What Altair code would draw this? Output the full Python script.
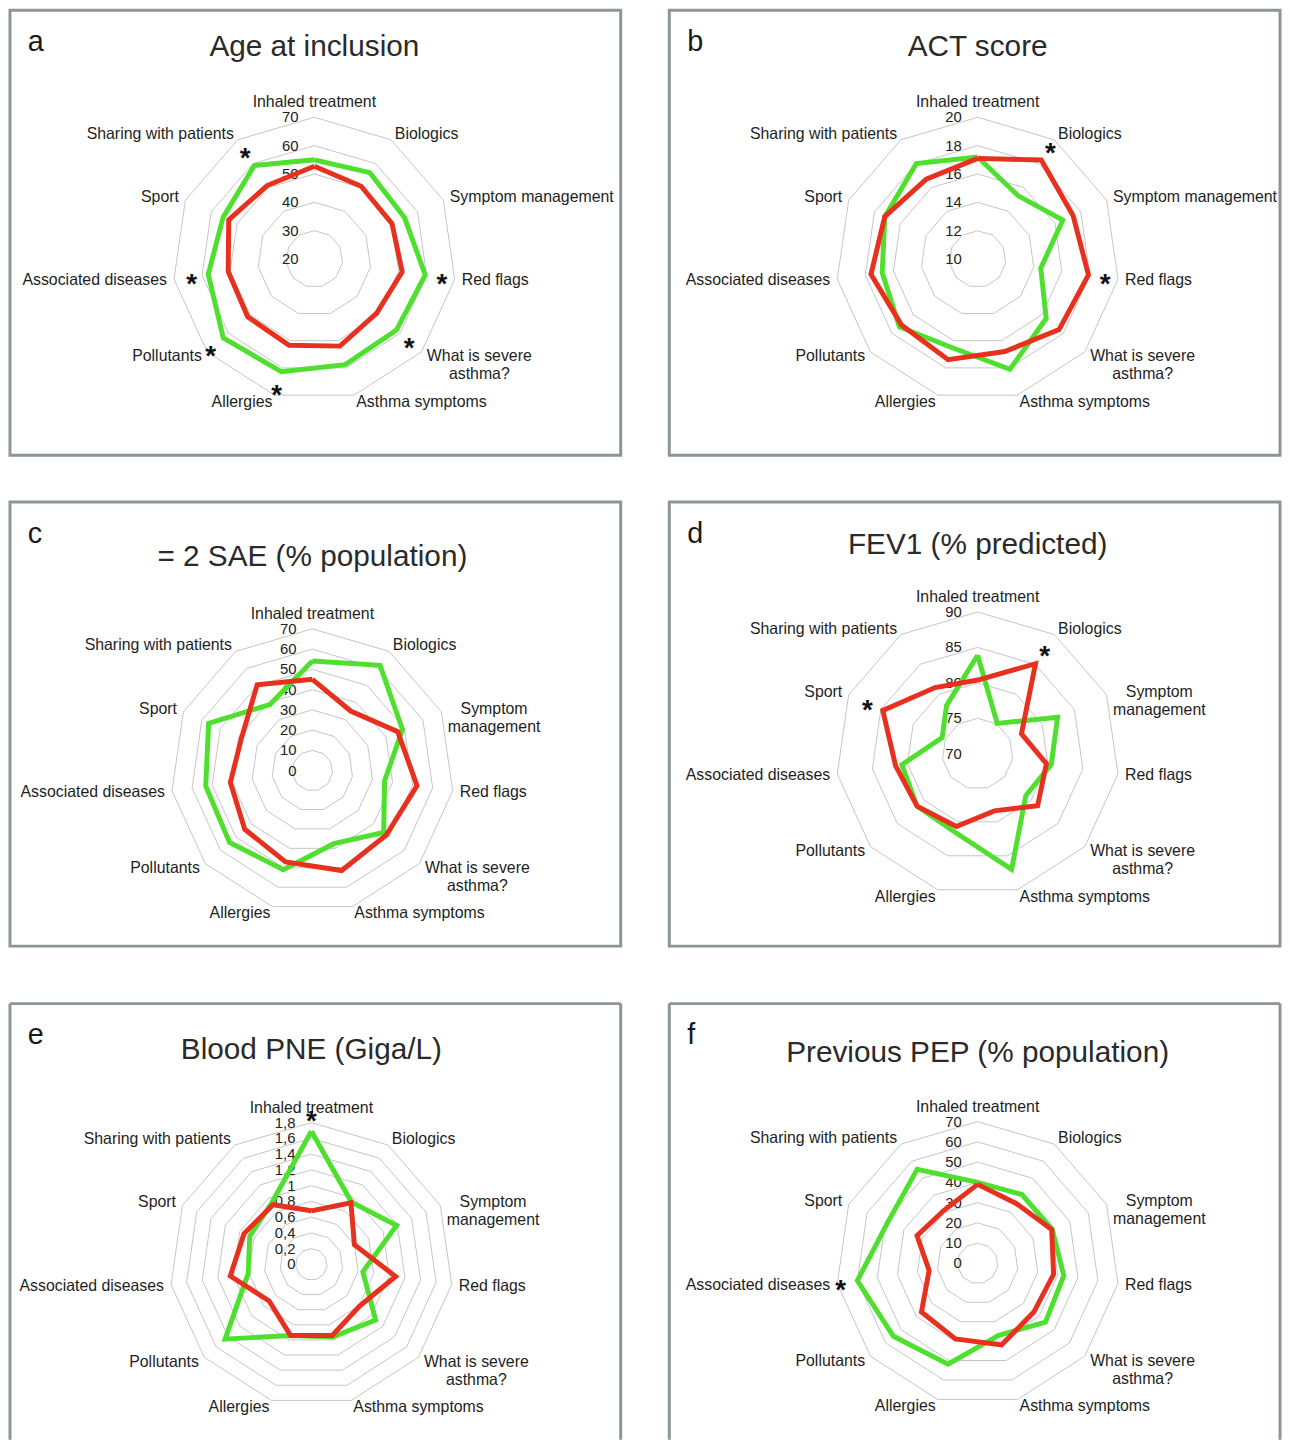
import math
import altair as alt
import pandas as pd

# ---------------- data ----------------
AXES = ["Inhaled treatment", "Biologics", "Symptom management", "Red flags",
        "What is severe asthma?", "Asthma symptoms", "Allergies", "Pollutants",
        "Associated diseases", "Sport", "Sharing with patients"]

KEYS = ["a", "b", "c", "d", "e", "f"]
TITLES = ["Age at inclusion", "ACT score", "= 2 SAE (% population)",
          "FEV1 (% predicted)", "Blood PNE (Giga/L)", "Previous PEP (% population)"]

TICKS_A = [20, 30, 40, 50, 60, 70]
TICKS_B = [10, 12, 14, 16, 18, 20]
TICKS_C = [0, 10, 20, 30, 40, 50, 60, 70]
TICKS_D = [70, 75, 80, 85, 90]
TICKS_E = [0, 0.2, 0.4, 0.6, 0.8, 1.0, 1.2, 1.4, 1.6, 1.8]
TICKS_F = [0, 10, 20, 30, 40, 50, 60, 70]
TICK_LABELS_E = ["0", "0,2", "0,4", "0,6", "0,8", "1", "1,2", "1,4", "1,6", "1,8"]

GREEN_A = [55.0, 56.2, 55.0, 59.5, 58.3, 58.8, 61.4, 62.5, 57.8, 55.4, 59.2]
RED_A = [52.7, 50.5, 50.1, 51.3, 49.1, 52.0, 51.7, 51.1, 50.7, 53.2, 50.8]
GREEN_B = [17.2, 15.3, 16.6, 14.5, 16.4, 18.1, 16.5, 17.3, 16.8, 17.2, 18.0]
RED_B = [17.1, 18.3, 17.4, 17.9, 17.6, 16.8, 17.4, 17.1, 17.6, 17.2, 16.7]
GREEN_C = [54.1, 61.8, 48.9, 36.0, 46.6, 37.6, 51.0, 54.1, 53.2, 56.3, 38.8]
RED_C = [45.1, 35.0, 46.3, 52.2, 48.4, 51.4, 47.0, 44.2, 40.9, 38.5, 50.4]
GREEN_D = [83.9, 75.1, 82.4, 80.5, 79.0, 87.0, 81.5, 81.3, 80.8, 75.5, 78.1]
RED_D = [80.4, 85.1, 76.8, 79.8, 81.2, 78.4, 80.7, 81.3, 81.7, 84.7, 81.1]
GREEN_E = [1.69, 0.94, 1.19, 0.66, 1.08, 0.96, 0.94, 1.45, 0.81, 0.86, 0.93]
RED_E = [0.68, 0.93, 0.60, 1.08, 0.81, 0.94, 0.94, 0.71, 1.04, 0.94, 0.90]
GREEN_F = [40.0, 40.4, 40.5, 43.0, 44.3, 37.0, 51.9, 55.0, 60.0, 48.8, 55.2]
RED_F = [39.0, 35.2, 40.2, 37.9, 36.7, 42.0, 38.9, 36.7, 24.2, 32.9, 31.0]

STARS_A = ["Sharing with patients", "Associated diseases", "Pollutants", "Allergies",
           "Red flags", "What is severe asthma?"]
STARS_B = ["Biologics", "Red flags"]
STARS_C = []
STARS_D = ["Biologics", "Sport"]
STARS_E = ["Inhaled treatment"]
STARS_F = ["Associated diseases"]

# ---------------- style / layout ----------------
GREEN_COL = "#4fdf2e"
RED_COL = "#e8301e"
GRID_COL = "#c4c4c4"
BOX_COL = "#8b9795"
FONT = "Liberation Sans"
PW = 616          # panel width
R = 143           # outer ring radius (px)
LAYOUT = {
    "a": dict(cx=307, cy=251, h=449, ty=37, wrap=False, open=False),
    "b": dict(cx=311, cy=251, h=449, ty=37, wrap=False, open=False),
    "c": dict(cx=305, cy=271, h=448, ty=56, wrap=True, open=False),
    "d": dict(cx=311, cy=254, h=448, ty=43, wrap=True, open=False),
    "e": dict(cx=304, cy=263, h=440, ty=47, wrap=True, open=True),
    "f": dict(cx=311, cy=262, h=440, ty=50, wrap=True, open=True),
}

ARIAL_W = {"a": 556, "b": 556, "c": 500, "d": 556, "e": 556, "f": 278, "g": 556, "h": 556,
           "i": 222, "j": 222, "k": 500, "l": 222, "m": 833, "n": 556, "o": 556, "p": 556,
           "q": 556, "r": 333, "s": 500, "t": 278, "u": 556, "v": 500, "w": 722, "x": 500,
           "y": 500, "z": 500, " ": 278, "?": 556, "W": 944, "S": 667}


def est_width(line, size):
    return sum(ARIAL_W.get(ch, 667) for ch in line) / 1000.0 * size


def polar(chart):
    return (chart.transform_calculate(ang="2*PI*datum.k/11")
                 .transform_calculate(px="datum.r*sin(datum.ang)",
                                      py="datum.r*cos(datum.ang)"))


def panel(key, title, ticks, tick_labels, green, red, stars):
    lay = LAYOUT[key]
    cx, cy, H = lay["cx"], lay["cy"], lay["h"]
    vmin, vmax = ticks[0], ticks[-1]
    span = vmax - vmin
    xs = alt.Scale(domain=[-cx / R, (PW - cx) / R], nice=False, zero=False)
    ys = alt.Scale(domain=[-(H - cy) / R, cy / R], nice=False, zero=False)
    X = alt.X("px:Q", scale=xs, axis=None)
    Y = alt.Y("py:Q", scale=ys, axis=None)

    ring_df = pd.DataFrame([{"tick": t, "k": k} for t in ticks[1:] for k in range(12)])
    rings = polar(alt.Chart(ring_df).transform_calculate(
        r=f"(datum.tick - {vmin}) / {span}")).mark_line(
        color=GRID_COL, strokeWidth=1).encode(x=X, y=Y, order="k:Q", detail="tick:N")

    tl_df = pd.DataFrame({"tick": ticks, "label": tick_labels})
    tlabels = alt.Chart(tl_df).transform_calculate(
        r=f"(datum.tick - {vmin}) / {span}").transform_calculate(
        px="0", py="datum.r").mark_text(
        align="right", baseline="middle", dx=-16, fontSize=15, color="#222222",
        font=FONT).encode(x=X, y=Y, text="label:N")

    rows = []
    for name, vals in (("green", green), ("red", red)):
        for k in range(12):
            rows.append({"series": name, "k": k, "axis": AXES[k % 11], "value": vals[k % 11]})
    sdf = pd.DataFrame(rows)
    lines = polar(alt.Chart(sdf).transform_calculate(
        r=f"(datum.value - {vmin}) / {span}")).mark_line(
        strokeWidth=5, strokeJoin="miter").encode(
        x=X, y=Y, order="k:Q",
        color=alt.Color("series:N", scale=alt.Scale(domain=["green", "red"],
                                                    range=[GREEN_COL, RED_COL]), legend=None))

    lab_rows = []
    for k, name in enumerate(AXES):
        text = name
        if name == "What is severe asthma?":
            text = "What is severe\nasthma?"
        if name == "Symptom management" and lay["wrap"]:
            text = "Symptom\nmanagement"
        s = math.sin(2 * math.pi * k / 11)
        c = math.cos(2 * math.pi * k / 11)
        lx, ly = 1.05 * s, 1.05 * c
        if k == 0:
            grp = "top"
        elif "\n" in text:
            grp = "center"
            w = max(est_width(l, 16) for l in text.split("\n"))
            lx += (w / 2 / R) * (1 if s > 0 else -1)
        elif s > 0:
            grp = "left"
        else:
            grp = "right"
        lab_rows.append({"text": text, "px": lx, "py": ly, "grp": grp})
    ldf = pd.DataFrame(lab_rows)
    lab_layers = []
    for grp, align, base in (("top", "center", "bottom"), ("center", "center", "middle"),
                             ("left", "left", "middle"), ("right", "right", "middle")):
        lab_layers.append(alt.Chart(ldf).transform_filter(
            f"datum.grp == '{grp}'").mark_text(
            align=align, baseline=base, fontSize=16, lineBreak="\n", lineHeight=18,
            color="#1e1e1e", font=FONT).encode(x=X, y=Y, text="text:N"))

    st_rows = []
    for name in stars:
        k = AXES.index(name)
        rmax = max((green[k] - vmin) / span, (red[k] - vmin) / span)
        rs = rmax + 17 / R
        st_rows.append({"px": rs * math.sin(2 * math.pi * k / 11),
                        "py": rs * math.cos(2 * math.pi * k / 11)})
    layers = [rings, tlabels, lines] + lab_layers
    if st_rows:
        star = alt.Chart(pd.DataFrame(st_rows)).mark_text(
            text="*", fontSize=28, fontWeight="bold", baseline="alphabetic", dy=16,
            color="#111111", font=FONT).encode(x=X, y=Y)
        layers.append(star)

    ttl = alt.Chart(pd.DataFrame({"t": [title]})).transform_calculate(px="0").mark_text(
        fontSize=30, baseline="middle", align="center", color="#2a2a2a", font=FONT).encode(
        x=X, y=alt.value(lay["ty"]), text="t:N")
    letter = alt.Chart(pd.DataFrame({"t": [key]})).mark_text(
        fontSize=29, baseline="alphabetic", align="left", color="#1a1a1a", font=FONT).encode(
        x=alt.value(18), y=alt.value(41), text="t:N")
    layers += [ttl, letter]

    props = dict(width=PW, height=H)
    if lay["open"]:
        # bottom row is cut by the page edge: frame drawn on three sides only
        border_df = pd.DataFrame({"side": ["left", "right", "top"]})
        left = alt.Chart(border_df).transform_filter("datum.side == 'left'").mark_rule(
            color=BOX_COL, strokeWidth=3).encode(x=alt.value(0), y=alt.value(0), y2=alt.value(H))
        right = alt.Chart(border_df).transform_filter("datum.side == 'right'").mark_rule(
            color=BOX_COL, strokeWidth=3).encode(x=alt.value(PW), y=alt.value(0), y2=alt.value(H))
        top = alt.Chart(border_df).transform_filter("datum.side == 'top'").mark_rule(
            color=BOX_COL, strokeWidth=3).encode(x=alt.value(0), x2=alt.value(PW), y=alt.value(0))
        layers += [left, right, top]
        props["view"] = alt.ViewBackground(strokeOpacity=0)
    return alt.layer(*layers).properties(**props)


pa = panel("a", TITLES[0], TICKS_A, [str(t) for t in TICKS_A], GREEN_A, RED_A, STARS_A)
pb = panel("b", TITLES[1], TICKS_B, [str(t) for t in TICKS_B], GREEN_B, RED_B, STARS_B)
pc = panel("c", TITLES[2], TICKS_C, [str(t) for t in TICKS_C], GREEN_C, RED_C, STARS_C)
pd_ = panel("d", TITLES[3], TICKS_D, [str(t) for t in TICKS_D], GREEN_D, RED_D, STARS_D)
pe = panel("e", TITLES[4], TICKS_E, TICK_LABELS_E, GREEN_E, RED_E, STARS_E)
pf = panel("f", TITLES[5], TICKS_F, [str(t) for t in TICKS_F], GREEN_F, RED_F, STARS_F)

row1 = alt.hconcat(pa, pb, spacing=45)
row2 = alt.hconcat(pc, pd_, spacing=45)
row3 = alt.hconcat(pe, pf, spacing=45)
chart = alt.vconcat(alt.vconcat(row1, row2, spacing=43), row3, spacing=54).properties(
    padding={"top": -6, "left": 0, "right": 0, "bottom": 0}).configure_view(
    stroke=BOX_COL, strokeWidth=3)

chart.save("out.html", embed_options={"renderer": "svg", "actions": False})
